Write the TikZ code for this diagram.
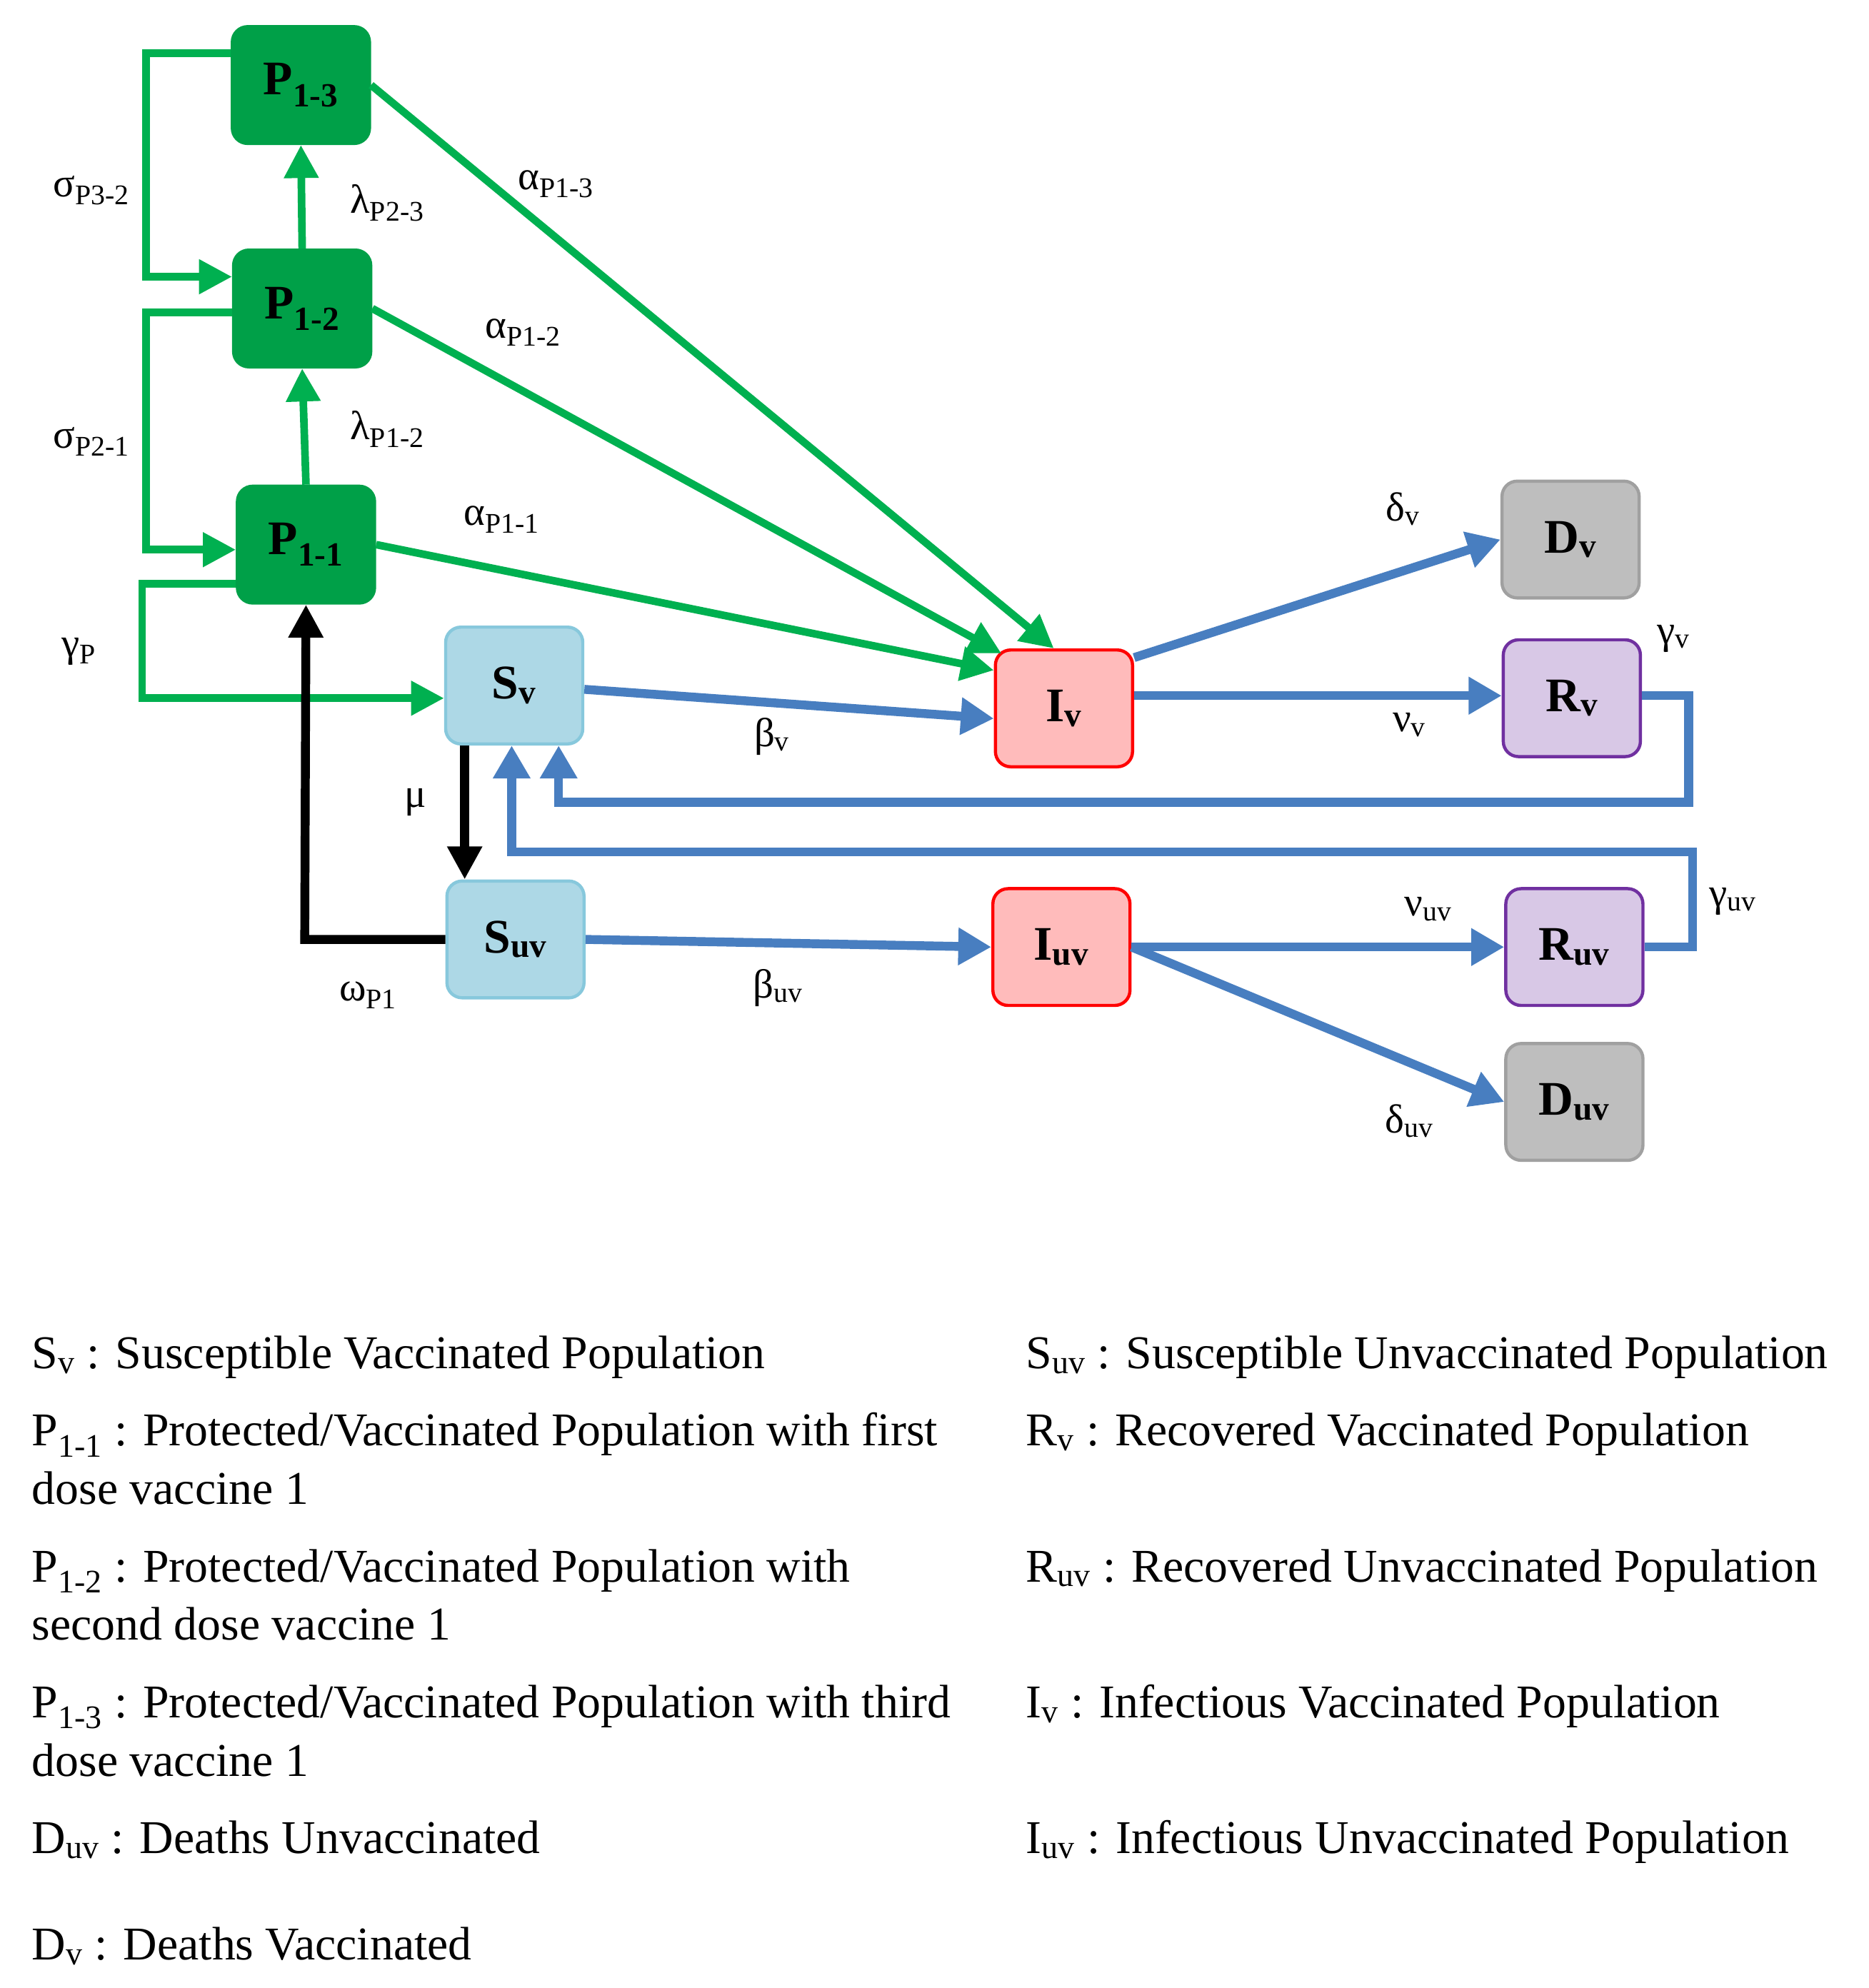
\documentclass[tikz,border=0pt]{standalone}
\usepackage{fontspec}
\setmainfont{Liberation Serif}
\usetikzlibrary{arrows.meta}
\definecolor{gr}{RGB}{0,176,80}
\definecolor{grd}{RGB}{0,160,72}
\definecolor{bl}{RGB}{72,126,192}
\definecolor{sfill}{RGB}{173,216,230}
\definecolor{sdraw}{RGB}{135,200,220}
\definecolor{ifill}{RGB}{255,187,187}
\definecolor{rfill}{RGB}{216,200,230}
\definecolor{rdraw}{RGB}{112,48,160}
\definecolor{dfill}{RGB}{190,190,190}
\definecolor{ddraw}{RGB}{160,160,160}
\newcommand{\sbx}[1]{\textsubscript{#1}}
\begin{document}
\begin{tikzpicture}[x=1pt,y=-1pt,
 box/.style={rounded corners=12pt,minimum width=108pt,minimum height=92pt,line width=2.5pt,font=\fontsize{38}{40}\selectfont\bfseries,inner sep=0pt},
 pbox/.style={box,fill=grd,draw=grd},
 sbox/.style={box,fill=sfill,draw=sdraw},
 ibox/.style={box,fill=ifill,draw=red},
 rbox/.style={box,fill=rfill,draw=rdraw},
 dbox/.style={box,fill=dfill,draw=ddraw},
 garr/.style={draw=gr,line width=6pt,-{Triangle[length=26pt,width=26pt]}},
 barr/.style={draw=bl,line width=7pt,-{Triangle[length=26pt,width=28pt]}},
 karr/.style={draw=black,line width=7pt,-{Triangle[length=26pt,width=26pt]}},
 lab/.style={font=\fontsize{32}{36}\selectfont},
 leg/.style={anchor=base west,font=\fontsize{37}{40}\selectfont,inner sep=0pt}]
\useasboundingbox (0,0) rectangle (1472,1566);
\node[pbox] (P13) at (237,67) {P\sbx{1-3}};
\node[pbox] (P12) at (238,243) {P\sbx{1-2}};
\node[pbox] (P11) at (241,429) {P\sbx{1-1}};
\node[sbox] (Sv) at (405,540) {S\sbx{v}};
\node[sbox] (Suv) at (406,740) {S\sbx{uv}};
\node[ibox] (Iv) at (838,558) {I\sbx{v}};
\node[ibox] (Iuv) at (836,746) {I\sbx{uv}};
\node[dbox] (Dv) at (1237,425) {D\sbx{v}};
\node[rbox] (Rv) at (1238,550) {R\sbx{v}};
\node[rbox] (Ruv) at (1240,746) {R\sbx{uv}};
\node[dbox] (Duv) at (1240,868) {D\sbx{uv}};
% green
\draw[garr] (P11.north) -- (P12.south);
\draw[garr] (P12.north) -- (P13.south);
\draw[garr] (P13.east) -- ([xshift=-8pt]Iv.north);
\draw[garr] (P12.east) -- ([xshift=6pt,yshift=-4pt]Iv.north west);
\draw[garr] (P11.east) -- ([yshift=30pt]Iv.west);
\draw[garr] ([yshift=25pt]P13.west) -- (115,42) -- (115,218) -- ([yshift=25pt]P12.west);
\draw[garr] ([yshift=-3pt]P12.west) -- (115,246) -- (115,433) -- ([yshift=-4pt]P11.west);
\draw[garr] ([yshift=-31pt]P11.west) -- (112,460) -- (112,550) -- ([yshift=-10pt]Sv.west);
% black
\draw[karr] (Suv.west) -- (240,740) -- (P11.south);
\draw[karr] ([xshift=-39pt]Sv.south) -- ([xshift=-40pt]Suv.north);
% blue
\draw[barr] ([yshift=-3pt]Sv.east) -- ([yshift=-8pt]Iv.west);
\draw[barr] (Suv.east) -- (Iuv.west);
\draw[barr] ([yshift=40pt]Iv.east) -- (Dv.west);
\draw[barr] ([yshift=10pt]Iv.east) -- ([yshift=2pt]Rv.west);
\draw[barr] ([yshift=2pt]Rv.east) -- (1330,548) -- (1330,632) -- (440,632) -- ([xshift=35pt]Sv.south);
\draw[barr] (Ruv.east) -- (1333,746) -- (1333,671) -- (403,671) -- ([xshift=-2pt]Sv.south);
\draw[barr] (Iuv.east) -- (Ruv.west);
\draw[barr] (Iuv.east) -- (Duv.west);
% labels
\node[lab] at (72,150) {σ\sbx{P3-2}};
\node[lab] at (72,348) {σ\sbx{P2-1}};
\node[lab] at (62,513) {γ\sbx{P}};
\node[lab] at (305,160) {λ\sbx{P2-3}};
\node[lab] at (305,338) {λ\sbx{P1-2}};
\node[lab] at (438,145) {α\sbx{P1-3}};
\node[lab] at (412,262) {α\sbx{P1-2}};
\node[lab] at (395,409) {α\sbx{P1-1}};
\node[lab] at (290,784) {ω\sbx{P1}};
\node[lab] at (327,632) {μ};
\node[lab] at (608,580) {β\sbx{v}};
\node[lab] at (613,778) {β\sbx{uv}};
\node[lab] at (1105,401) {δ\sbx{v}};
\node[lab] at (1110,571) {ν\sbx{v}};
\node[lab] at (1318,503) {γ\sbx{v}};
\node[lab] at (1365,710) {γ\sbx{uv}};
\node[lab] at (1125,716) {ν\sbx{uv}};
\node[lab] at (1110,883) {δ\sbx{uv}};
% legend
\node[leg] (l1) at (25,1078) {S\sbx{v} : Susceptible Vaccinated Population};
\node[leg] (l2) at (25,1139) {P\sbx{1-1} : Protected/Vaccinated Population with first};
\node[leg] (l2b) at (25,1185) {dose vaccine 1};
\node[leg] (l3) at (25,1246) {P\sbx{1-2} : Protected/Vaccinated Population with};
\node[leg] (l3b) at (25,1292) {second dose vaccine 1};
\node[leg] (l4) at (25,1353) {P\sbx{1-3} : Protected/Vaccinated Population with third};
\node[leg] (l4b) at (25,1399) {dose vaccine 1};
\node[leg] (l5) at (25,1460) {D\sbx{uv} : Deaths Unvaccinated};
\node[leg] (l6) at (25,1544) {D\sbx{v} : Deaths Vaccinated};
\node[leg] (r1) at (808,1078) {S\sbx{uv} : Susceptible Unvaccinated Population};
\node[leg] (r2) at (808,1139) {R\sbx{v} : Recovered Vaccinated Population};
\node[leg] (r3) at (808,1246) {R\sbx{uv} : Recovered Unvaccinated Population};
\node[leg] (r4) at (808,1353) {I\sbx{v} : Infectious Vaccinated Population};
\node[leg] (r5) at (808,1460) {I\sbx{uv} : Infectious Unvaccinated Population};
\end{tikzpicture}
\end{document}
